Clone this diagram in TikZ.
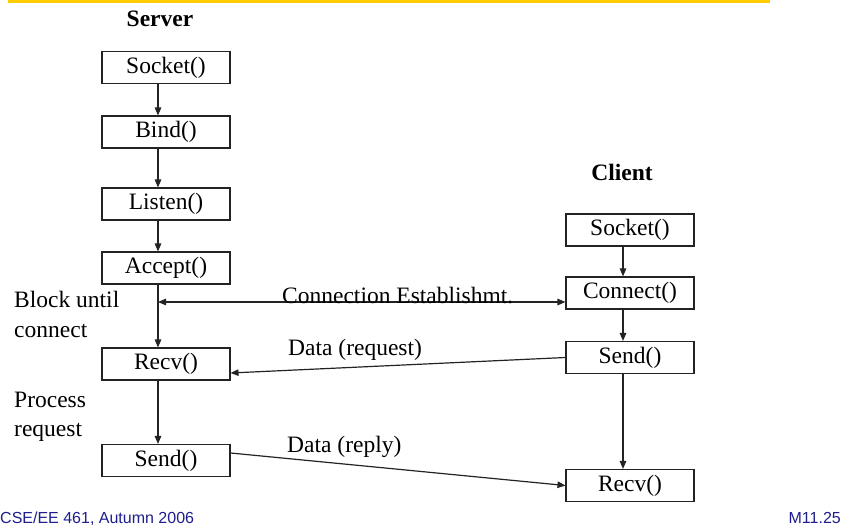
\documentclass[tikz,border=0pt]{standalone}
\usepackage{fontspec}
\setmainfont{Liberation Serif}
\newfontfamily\footfont{Liberation Sans}
\usetikzlibrary{arrows.meta}
\definecolor{gold}{RGB}{255,204,0}
\definecolor{footblue}{RGB}{30,30,140}
\definecolor{ink}{RGB}{35,35,35}
\begin{document}
\begin{tikzpicture}[x=1pt,y=-1pt,
  fbox/.style={draw=ink, line width=1.1pt, minimum width=128pt, minimum height=32pt, inner sep=0pt, font=\fontsize{23.5}{29}\selectfont},
  lbl/.style={inner sep=0pt, font=\fontsize{23.5}{29}\selectfont},
  hdr/.style={inner sep=0pt, font=\fontsize{23.5}{29}\selectfont\bfseries},
  foot/.style={inner sep=0pt, text=footblue, font=\footfont\fontsize{16}{19}\selectfont},
  flow/.style={draw=ink, line width=1.2pt, -{Triangle[length=8pt,width=6.5pt]}},
  both/.style={draw=ink, line width=1.2pt, {Triangle[length=8pt,width=6.5pt]}-{Triangle[length=8pt,width=6.5pt]}}]
\useasboundingbox (0,0) rectangle (843,529);
\draw[gold, line width=3pt] (8,1.5) -- (770,1.5);

% headers
\node[hdr, anchor=base] (server) at (160,27) {Server};
\node[hdr, anchor=base] (client) at (622,181) {Client};

% server column
\node[fbox] (s_socket) at (166,67.5) {Socket()};
\node[fbox] (s_bind)   at (166,132) {Bind()};
\node[fbox] (s_listen) at (166,204) {Listen()};
\node[fbox] (s_accept) at (166,268) {Accept()};
\node[fbox] (s_recv)   at (166,364) {Recv()};
\node[fbox] (s_send)   at (166,460.5) {Send()};

% client column
\node[fbox] (c_socket)  at (630,230) {Socket()};
\node[fbox] (c_connect) at (630,293) {Connect()};
\node[fbox] (c_send)    at (630,357.5) {Send()};
\node[fbox] (c_recv)    at (630,485.5) {Recv()};

% server flow
\draw[flow] ([xshift=-8pt]s_socket.south) -- ([xshift=-8pt]s_bind.north);
\draw[flow] ([xshift=-8pt]s_bind.south) -- ([xshift=-8pt]s_listen.north);
\draw[flow] ([xshift=-8pt]s_listen.south) -- ([xshift=-8pt]s_accept.north);
\draw[flow] ([xshift=-8pt]s_accept.south) -- ([xshift=-8pt]s_recv.north);
\draw[flow] ([xshift=-8pt]s_recv.south) -- ([xshift=-8pt]s_send.north);

% client flow
\draw[flow] ([xshift=-7pt]c_socket.south) -- ([xshift=-7pt]c_connect.north);
\draw[flow] ([xshift=-7pt]c_connect.south) -- ([xshift=-7pt]c_send.north);
\draw[flow] ([xshift=-7pt]c_send.south) -- ([xshift=-7pt]c_recv.north);

% exchanges
\coordinate (blk) at (158,302);
\draw[both] (blk) -- ([yshift=-9pt]c_connect.west);
\node[lbl, anchor=base west] (conn) at (282,303) {Connection Establishmt.};

\draw[flow] (c_send.west) -- ([yshift=-9pt]s_recv.east);
\node[lbl, anchor=base west] (dreq) at (288,355) {Data (request)};

\draw[flow] ([yshift=7.5pt]s_send.east) -- (c_recv.west);
\node[lbl, anchor=base west] (drep) at (287,452) {Data (reply)};

% side notes (base anchor = baseline of last line)
\node[lbl, anchor=base west, align=left] (block) at (14,337) {Block until\\connect};
\node[lbl, anchor=base west, align=left] (proc) at (14,436) {Process\\request};

% footer
\node[foot, anchor=base west] (f1) at (0,523) {CSE/EE 461, Autumn 2006};
\node[foot, anchor=base east] (f2) at (841,523) {M11.25};
\end{tikzpicture}
\end{document}
